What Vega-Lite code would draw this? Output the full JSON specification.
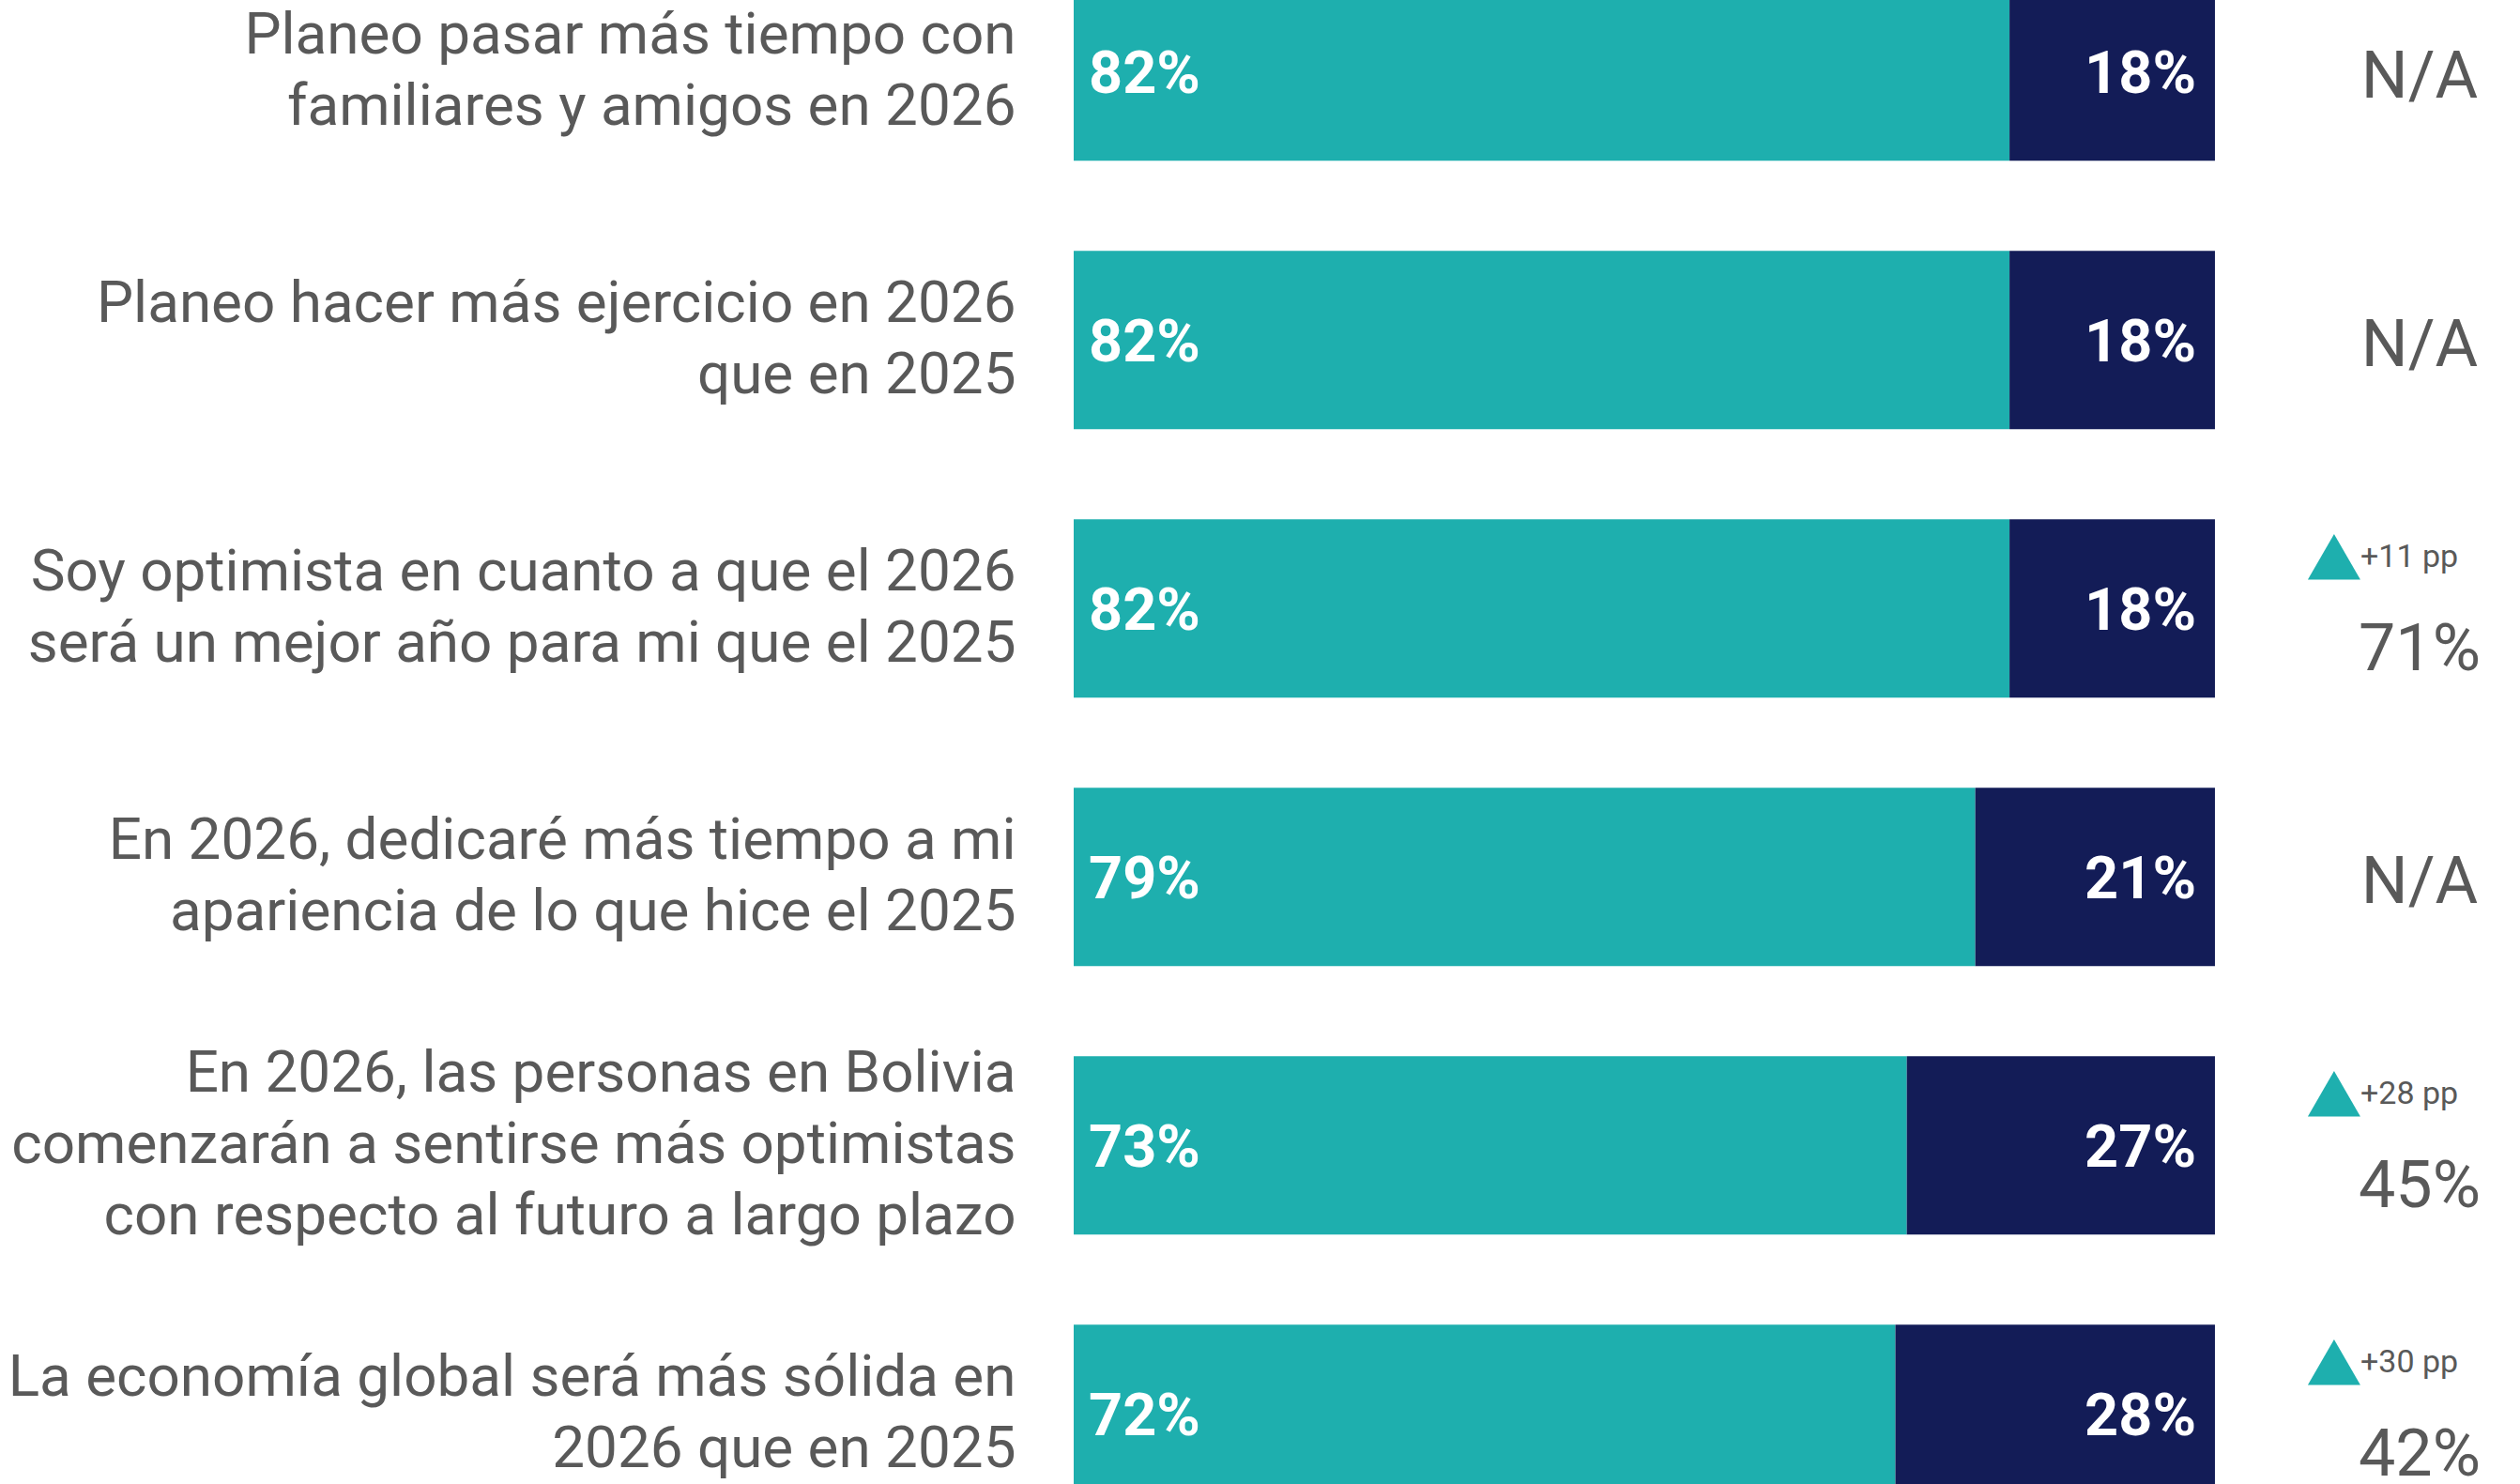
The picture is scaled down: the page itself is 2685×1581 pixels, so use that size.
{
  "$schema": "https://vega.github.io/schema/vega-lite/v6.json",
  "width": 1541,
  "height": 1581,
  "autosize": {"type": "none"},
  "padding": {"left": 1144, "top": 0, "right": 0, "bottom": 0},
  "background": "#ffffff",
  "config": {"view": {"stroke": null}, "font": "Roboto"},
  "data": {
    "values": [
      {"enunciado": "Planeo pasar más tiempo con|familiares y amigos en 2026", "si": 0.82, "no": 0.18, "prev": null, "cambio": null},
      {"enunciado": "Planeo hacer más ejercicio en 2026|que en 2025", "si": 0.82, "no": 0.18, "prev": null, "cambio": null},
      {"enunciado": "Soy optimista en cuanto a que el 2026|será un mejor año para mi que el 2025", "si": 0.82, "no": 0.18, "prev": 0.71, "cambio": "+11 pp"},
      {"enunciado": "En 2026, dedicaré más tiempo a mi|apariencia de lo que hice el 2025", "si": 0.79, "no": 0.21, "prev": null, "cambio": null},
      {"enunciado": "En 2026, las personas en Bolivia|comenzarán a sentirse más optimistas|con respecto al futuro a largo plazo", "si": 0.73, "no": 0.27, "prev": 0.45, "cambio": "+28 pp"},
      {"enunciado": "La economía global será más sólida en|2026 que en 2025", "si": 0.72, "no": 0.28, "prev": 0.42, "cambio": "+30 pp"}
    ]
  },
  "encoding": {
    "y": {
      "field": "enunciado",
      "type": "nominal",
      "sort": null,
      "scale": {"range": [-18.8, 1601.2], "paddingInner": 0.3357, "paddingOuter": 0},
      "axis": {
        "title": null,
        "domain": false,
        "ticks": false,
        "grid": false,
        "labelExpr": "split(datum.label, '|')",
        "labelFont": "Roboto",
        "labelFontSize": 62,
        "labelColor": "#595959",
        "labelLineHeight": 76,
        "labelPadding": 62,
        "labelAlign": "right",
        "labelBaseline": "middle",
        "labelLimit": 0,
        "labelOffset": {"condition": {"test": "length(split(datum.label, '|')) > 2", "value": -76}, "value": -38}
      }
    }
  },
  "layer": [
    {
      "transform": [{"fold": ["si", "no"], "as": ["grupo", "valor"]}],
      "mark": {"type": "bar", "clip": true},
      "encoding": {
        "x": {"field": "valor", "type": "quantitative", "stack": "zero", "scale": {"domain": [0, 1.2673], "nice": false, "zero": false}, "axis": null},
        "color": {"field": "grupo", "type": "nominal", "scale": {"domain": ["si", "no"], "range": ["#1EAFAE", "#131C57"]}, "legend": null},
        "order": {"field": "grupo", "sort": "descending"}
      }
    },
    {
      "mark": {"type": "text", "align": "left", "baseline": "alphabetic", "dx": 16, "dy": 23, "font": "Roboto", "fontWeight": "bold", "fontSize": 63, "color": "#ffffff"},
      "encoding": {
        "x": {"datum": 0},
        "text": {"field": "si", "type": "quantitative", "format": ".0%"}
      }
    },
    {
      "mark": {"type": "text", "align": "right", "baseline": "alphabetic", "dx": -20, "dy": 23, "font": "Roboto", "fontWeight": "bold", "fontSize": 63, "color": "#ffffff"},
      "encoding": {
        "x": {"datum": 1},
        "text": {"field": "no", "type": "quantitative", "format": ".0%"}
      }
    },
    {
      "transform": [{"filter": "datum.prev == null"}],
      "mark": {"type": "text", "align": "center", "baseline": "alphabetic", "dy": 28, "font": "Roboto", "fontSize": 70, "color": "#595959", "text": "N/A"},
      "encoding": {
        "x": {"datum": 1.1793}
      }
    },
    {
      "transform": [{"filter": "datum.prev != null"}],
      "mark": {"type": "text", "align": "center", "baseline": "alphabetic", "dy": 66, "font": "Roboto", "fontSize": 70, "color": "#595959"},
      "encoding": {
        "x": {"datum": 1.1793},
        "text": {"field": "prev", "type": "quantitative", "format": ".0%"}
      }
    },
    {
      "transform": [{"filter": "datum.prev != null"}],
      "mark": {"type": "point", "shape": "triangle-up", "filled": true, "size": 3136, "opacity": 1, "color": "#1EAFAE", "strokeWidth": 0, "yOffset": -55},
      "encoding": {
        "x": {"datum": 1.1044}
      }
    },
    {
      "transform": [{"filter": "datum.prev != null"}],
      "mark": {"type": "text", "align": "left", "baseline": "alphabetic", "dy": -44, "font": "Roboto", "fontSize": 34, "color": "#595959"},
      "encoding": {
        "x": {"datum": 1.1275},
        "text": {"field": "cambio", "type": "nominal"}
      }
    }
  ]
}
